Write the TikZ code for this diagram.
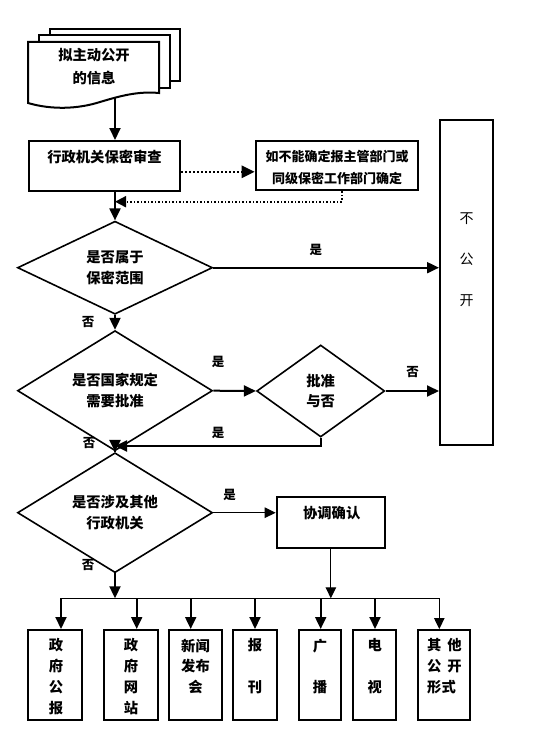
\documentclass[tikz,border=0pt]{standalone}
\usepackage{fontspec}
\setmainfont{Noto Sans CJK SC}
\usetikzlibrary{shapes.geometric,arrows.meta}
\newcommand\mytxt{\bfseries\fontsize{14.3pt}{20.5pt}\selectfont}
\newcommand\mytxtb{\bfseries\fontsize{14.3pt}{20.7pt}\selectfont}
\newcommand\mylbl{\bfseries\fontsize{12.5pt}{14pt}\selectfont}
\tikzset{
  docline/.style={line width=2pt, fill=white, line join=miter},
  box/.style={draw, line width=2pt, inner sep=0pt, fill=white},
  dia/.style={draw, diamond, line width=1.6pt, inner sep=0pt, align=center, font=\mytxt},
  txt/.style={font=\mytxt, align=center, inner sep=0pt},
  btxt/.style={font=\mytxtb, align=center, inner sep=0pt, anchor=north},
  arr/.style={line width=2pt, -{Triangle[length=12pt,width=11pt]}},
  thinarr/.style={line width=1.2pt, -{Triangle[length=11pt,width=10.5pt]}},
  dotarr/.style={line width=2.6pt, dash pattern=on 2pt off 2pt, -{Triangle[length=13pt,width=12pt]}},
  dotarrb/.style={line width=1.8pt, dash pattern=on 1.5pt off 2pt, -{Triangle[length=11pt,width=11pt]}},
  lbl/.style={font=\mylbl, inner sep=0pt},
  busline/.style={line width=1.2pt}
}
\begin{document}
\begin{tikzpicture}[x=1pt,y=-1pt]
\useasboundingbox[fill=white] (0,0) rectangle (550,752);
% document stack
\draw[docline] (50,29) rectangle (180,81);
\draw[docline] (39,35) rectangle (170,88);
\draw[docline] (28,42) -- (159,42) -- (159,93) .. controls (138,91) and (120,96) .. (100,102) .. controls (78,109) and (52,110) .. (28,103) -- cycle;
\node[txt, font=\bfseries\fontsize{14.3pt}{23.3pt}\selectfont] (doct) at (94,66.7) {拟主动公开\\的信息};
\coordinate (docb) at (115,98);
% review box
\node[box, minimum width=151pt, minimum height=49.7pt] (review) at (104.5,165.85) {};
\node[txt] (reviewt) at (104.5,156.7) {行政机关保密审查};
\draw[arr] (docb) -- (docb |- review.north);
% confirm box
\node[box, minimum width=162.3pt, minimum height=49pt] (confirm) at (336.85,165.85) {};
\node[txt, font=\bfseries\fontsize{13pt}{21.6pt}\selectfont] (confirmt) at (337,167.5) {如不能确定报主管部门或\\同级保密工作部门确定};
\draw[dotarr] ([yshift=-6pt]review.east) -- ([yshift=-6pt]confirm.west);
\coordinate (ret) at (115,201.7);
\draw[dotarrb] ([xshift=5pt]confirm.south) |- (ret);
% not public
\node[box, minimum width=53pt, minimum height=325pt] (np) at (466.5,282.5) {};
\node[font=\fontsize{14pt}{41pt}\selectfont, align=center, inner sep=0pt] (npt) at (466.5,259.5) {不\\公\\开};
% diamond 1
\node[dia, minimum width=195pt, minimum height=93pt] (d1) at (115,267.7) {是否属于\\保密范围};
\draw[arr] (review.south -| docb) -- (d1.north);
\draw[arr] (d1.east) -- (d1.east -| np.west);
\node[lbl] (l1) at (315.8,250) {是};
% diamond 2
\node[dia, minimum width=195pt, minimum height=91pt] (d2) at (115,390.7) {是否国家规定\\需要批准};
\draw[arr] (d1.south) -- (d2.north);
\node[lbl] (l2) at (88,321.7) {否};
% diamond 3
\node[dia, minimum width=128pt, minimum height=92pt] (d3) at (320.7,391) {批准\\与否};
\draw[arr] (d2.east) -- (d3.west);
\node[lbl] (l3) at (218,361.7) {是};
\draw[arr] (d3.east) -- (d3.east -| np.west);
\node[lbl] (l4) at (412.7,371.7) {否};
\coordinate (join) at (115,446);
\draw[arr] (d3.south) |- (join);
\node[lbl] (l5) at (218,433) {是};
% diamond 4
\node[dia, minimum width=195pt, minimum height=91pt] (d4) at (115,512.7) {是否涉及其他\\行政机关};
\draw[arr] (d2.south) -- (d4.north);
\node[lbl] (l6) at (89,443) {否};
% coordinate box
\node[box, minimum width=108.3pt, minimum height=50.4pt] (coord) at (330.85,522.5) {};
\node[txt] (coordt) at (331.7,513.3) {协调确认};
\draw[thinarr] (d4.east) -- (d4.east -| coord.west);
\node[lbl] (l7) at (229.5,495) {是};
% bus
\coordinate (t1) at (61,598.3);
\coordinate (t2) at (136.7,598.3);
\coordinate (t3) at (190.7,598.3);
\coordinate (t4) at (255,598.3);
\coordinate (t5) at (320.7,598.3);
\coordinate (t6) at (375,598.3);
\coordinate (t7) at (439.3,598.3);
\draw[busline] (t1) -- (t7);
\draw[arr] (d4.south) -- (d4.south |- t1);
\node[lbl] (l8) at (88,565) {否};
\draw[thinarr] (coord.south) -- (coord.south |- t1);
% bottom boxes
\node[box, minimum width=53.7pt, minimum height=90pt] (b1) at (55.15,675) {};
\node[box, minimum width=54pt, minimum height=90pt] (b2) at (130.7,675) {};
\node[box, minimum width=53.6pt, minimum height=90pt] (b3) at (195.5,675) {};
\node[box, minimum width=43.4pt, minimum height=90pt] (b4) at (255,675) {};
\node[box, minimum width=41.5pt, minimum height=90pt] (b5) at (319.75,675) {};
\node[box, minimum width=43.3pt, minimum height=90pt] (b6) at (374.35,675) {};
\node[box, minimum width=51.7pt, minimum height=90pt] (b7) at (444.15,675) {};
\draw[arr] (t1) -- (t1 |- b1.north);
\draw[arr] (t2) -- (t2 |- b2.north);
\draw[arr] (t3) -- (t3 |- b3.north);
\draw[arr] (t4) -- (t4 |- b4.north);
\draw[arr] (t5) -- (t5 |- b5.north);
\draw[arr] (t6) -- (t6 |- b6.north);
\draw[thinarr] (t7) -- (t7 |- b7.north);
\node[btxt] (b1t) at (56,638.5) {政\\府\\公\\报};
\node[btxt] (b2t) at (131,638.5) {政\\府\\网\\站};
\node[btxt] (b3t) at (195.5,638.5) {新闻\\发布\\会};
\node[btxt] (b4t) at (255,638.5) {报\\[20.7pt]刊};
\node[btxt] (b5t) at (320,638.5) {广\\[20.7pt]播};
\node[btxt] (b6t) at (374.7,638.5) {电\\[20.7pt]视};
\node[btxt, align=left, anchor=north west] (b7t) at (427,638.5) {其\hspace{6pt}他\\公\hspace{6pt}开\\形式};
\end{tikzpicture}
\end{document}
